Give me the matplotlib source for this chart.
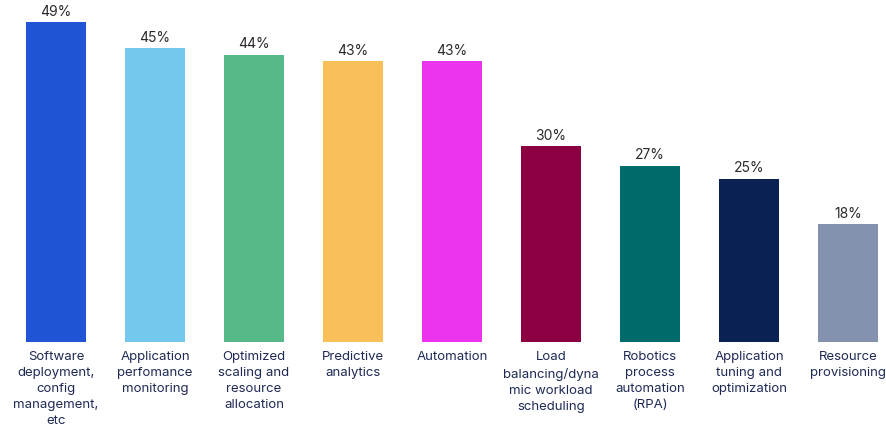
import matplotlib
matplotlib.use("Agg")
import matplotlib.pyplot as plt

categories = [
    "Software\ndeployment,\nconfig\nmanagement,\netc",
    "Application\nperfomance\nmonitoring",
    "Optimized\nscaling and\nresource\nallocation",
    "Predictive\nanalytics",
    "Automation",
    "Load\nbalancing/dyna\nmic workload\nscheduling",
    "Robotics\nprocess\nautomation\n(RPA)",
    "Application\ntuning and\noptimization",
    "Resource\nprovisioning",
]
values = [49, 45, 44, 43, 43, 30, 27, 25, 18]
colors = ["#1f55d4", "#74c8ee", "#56b987", "#f9bf58", "#ec33ee",
          "#8a0041", "#006b6b", "#0a2253", "#8492b0"]

plt.rcParams["font.family"] = ["Inter", "DejaVu Sans"]

fig = plt.figure(figsize=(8.87, 4.30), dpi=100)
ax = fig.add_axes([0.0, 88 / 430, 1.0, 320 / 430])

x = list(range(len(values)))
ax.bar(x, values, width=0.616, color=colors)
for xi, v in zip(x, values):
    ax.annotate(f"{v}%", (xi, v), xytext=(0, 2.5), textcoords="offset points",
                ha="center", va="bottom", fontsize=10, color="#2a2a2a")

ax.set_xlim(-56 / 99, (887 - 56) / 99)
ax.set_ylim(0, 49)
ax.set_xticks(x)
ax.set_xticklabels(categories, fontsize=9.5, color="#1f2a55", linespacing=1.45)
ax.tick_params(axis="x", length=0, pad=6.5)
ax.set_yticks([])
for s in ax.spines.values():
    s.set_visible(False)

fig.savefig("out.png", dpi=100)
